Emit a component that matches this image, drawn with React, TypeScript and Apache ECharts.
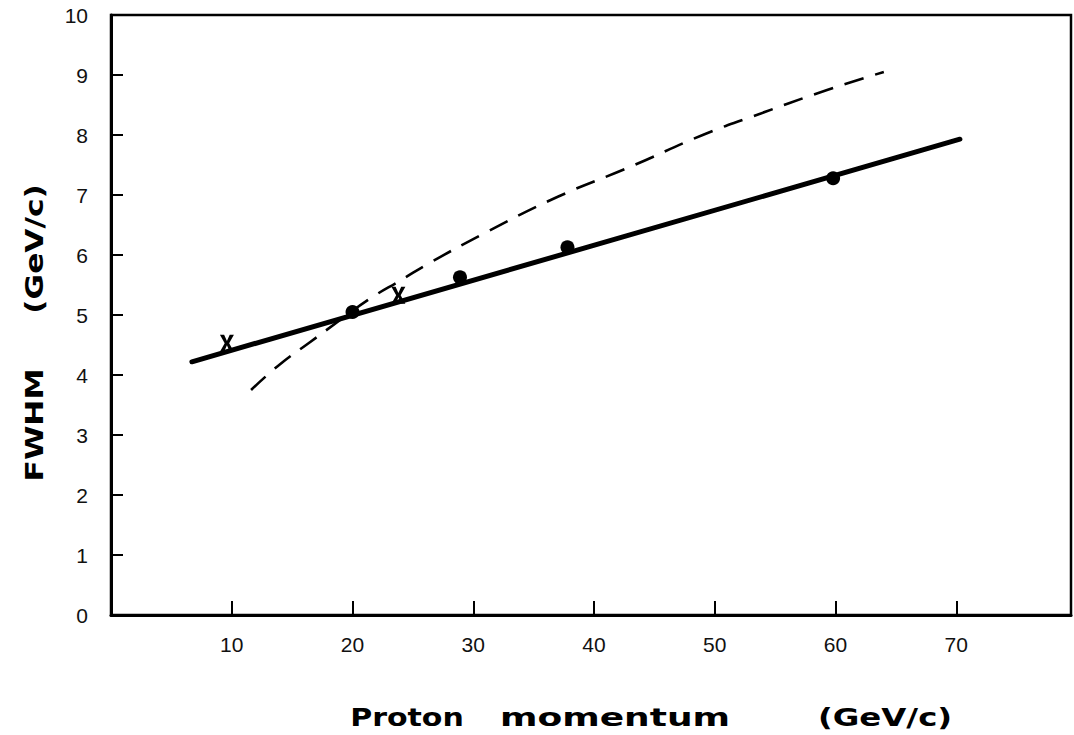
import React, { useEffect, useRef } from "react";
import * as echarts from "echarts";

const xTickLabels = [10, 20, 30, 40, 50, 60, 70];
const yTickLabels = [0, 1, 2, 3, 4, 5, 6, 7, 8, 9, 10];

const solidFit = [
  [6.7, 4.22],
  [70.3, 7.93],
];
const dotPoints = [
  [20.0, 5.05],
  [28.9, 5.63],
  [37.8, 6.13],
  [59.8, 7.28],
];
const crossPoints = [
  [9.6, 4.53],
  [23.8, 5.33],
];
const dashedCurve = [
  [11.6, 3.75],
  [14.0, 4.18],
  [16.5, 4.55],
  [19.0, 4.92],
  [21.5, 5.28],
  [24.0, 5.58],
  [26.5, 5.88],
  [31.0, 6.37],
  [37.0, 6.97],
  [43.0, 7.47],
  [49.0, 8.0],
  [53.0, 8.3],
  [59.3, 8.75],
  [64.0, 9.05],
];

const crossPath =
  "path://M0,0 L3,0 L5,4.5 L7,0 L10,0 L6.6,6 L10,12 L7,12 L5,7.5 L3,12 L0,12 L3.4,6 Z";

export default function App() {
  const ref = useRef<HTMLDivElement>(null);
  useEffect(() => {
    if (!ref.current) return;
    const chart = echarts.init(ref.current, undefined, { renderer: "svg" });
    const labelFont = { fontFamily: "Liberation Sans", fontSize: 21, color: "#111" };
    const titleStyle = {
      fontFamily: "DejaVu Sans",
      fontWeight: "bold",
      fontSize: 24,
      fill: "#000",
      textAlign: "center",
      textVerticalAlign: "middle",
    };
    chart.setOption({
      animation: false,
      backgroundColor: "#fff",
      grid: {
        left: 111,
        right: 3,
        top: 15,
        bottom: 120,
        show: true,
        borderColor: "#000",
        borderWidth: 2.5,
      },
      xAxis: {
        type: "value",
        min: 0,
        max: 79.5,
        interval: 10,
        splitLine: { show: false },
        axisLine: { show: true, onZero: false, lineStyle: { color: "#000", width: 3 } },
        axisTick: { show: true, inside: true, length: 14, lineStyle: { color: "#000", width: 2 } },
        axisLabel: {
          ...labelFont,
          margin: 19,
          showMaxLabel: false,
          formatter: (v: number) => (xTickLabels.includes(v) ? String(v) : ""),
        },
      },
      yAxis: {
        type: "value",
        min: 0,
        max: 10,
        interval: 1,
        splitLine: { show: false },
        axisLine: { show: true, onZero: false, lineStyle: { color: "#000", width: 3 } },
        axisTick: { show: true, inside: true, length: 12, lineStyle: { color: "#000", width: 2 } },
        axisLabel: {
          ...labelFont,
          margin: 23,
          formatter: (v: number) => (yTickLabels.includes(v) ? String(v) : ""),
        },
      },
      series: [
        {
          type: "line",
          data: dashedCurve,
          smooth: true,
          symbol: "none",
          lineStyle: { color: "#000", width: 2.6, type: [20, 12] },
          z: 2,
        },
        {
          type: "line",
          data: solidFit,
          symbol: "none",
          lineStyle: { color: "#000", width: 5, cap: "round" },
          z: 3,
        },
        {
          type: "scatter",
          data: dotPoints,
          symbol: "circle",
          symbolSize: 14,
          itemStyle: { color: "#000", opacity: 1 },
          z: 4,
        },
        {
          type: "scatter",
          data: crossPoints,
          symbol: crossPath,
          symbolSize: [14, 17],
          itemStyle: { color: "#000", opacity: 1 },
          z: 4,
        },
      ],
      graphic: [
        { type: "text", x: 35, y: 425, rotation: Math.PI / 2, scaleX: 1.3, style: { ...titleStyle, text: "FWHM" } },
        { type: "text", x: 35, y: 249, rotation: Math.PI / 2, scaleX: 1.3, style: { ...titleStyle, text: "(GeV/c)" } },
        { type: "text", x: 407, y: 718, scaleX: 1.25, style: { ...titleStyle, text: "Proton" } },
        { type: "text", x: 615, y: 718, scaleX: 1.5, style: { ...titleStyle, text: "momentum" } },
        { type: "text", x: 885, y: 718, scaleX: 1.35, style: { ...titleStyle, text: "(GeV/c)" } },
      ],
    });
    return () => chart.dispose();
  }, []);
  return (
    <div
      ref={ref}
      style={{ position: "absolute", left: 0, top: 0, width: 1074, height: 735 }}
    />
  );
}
